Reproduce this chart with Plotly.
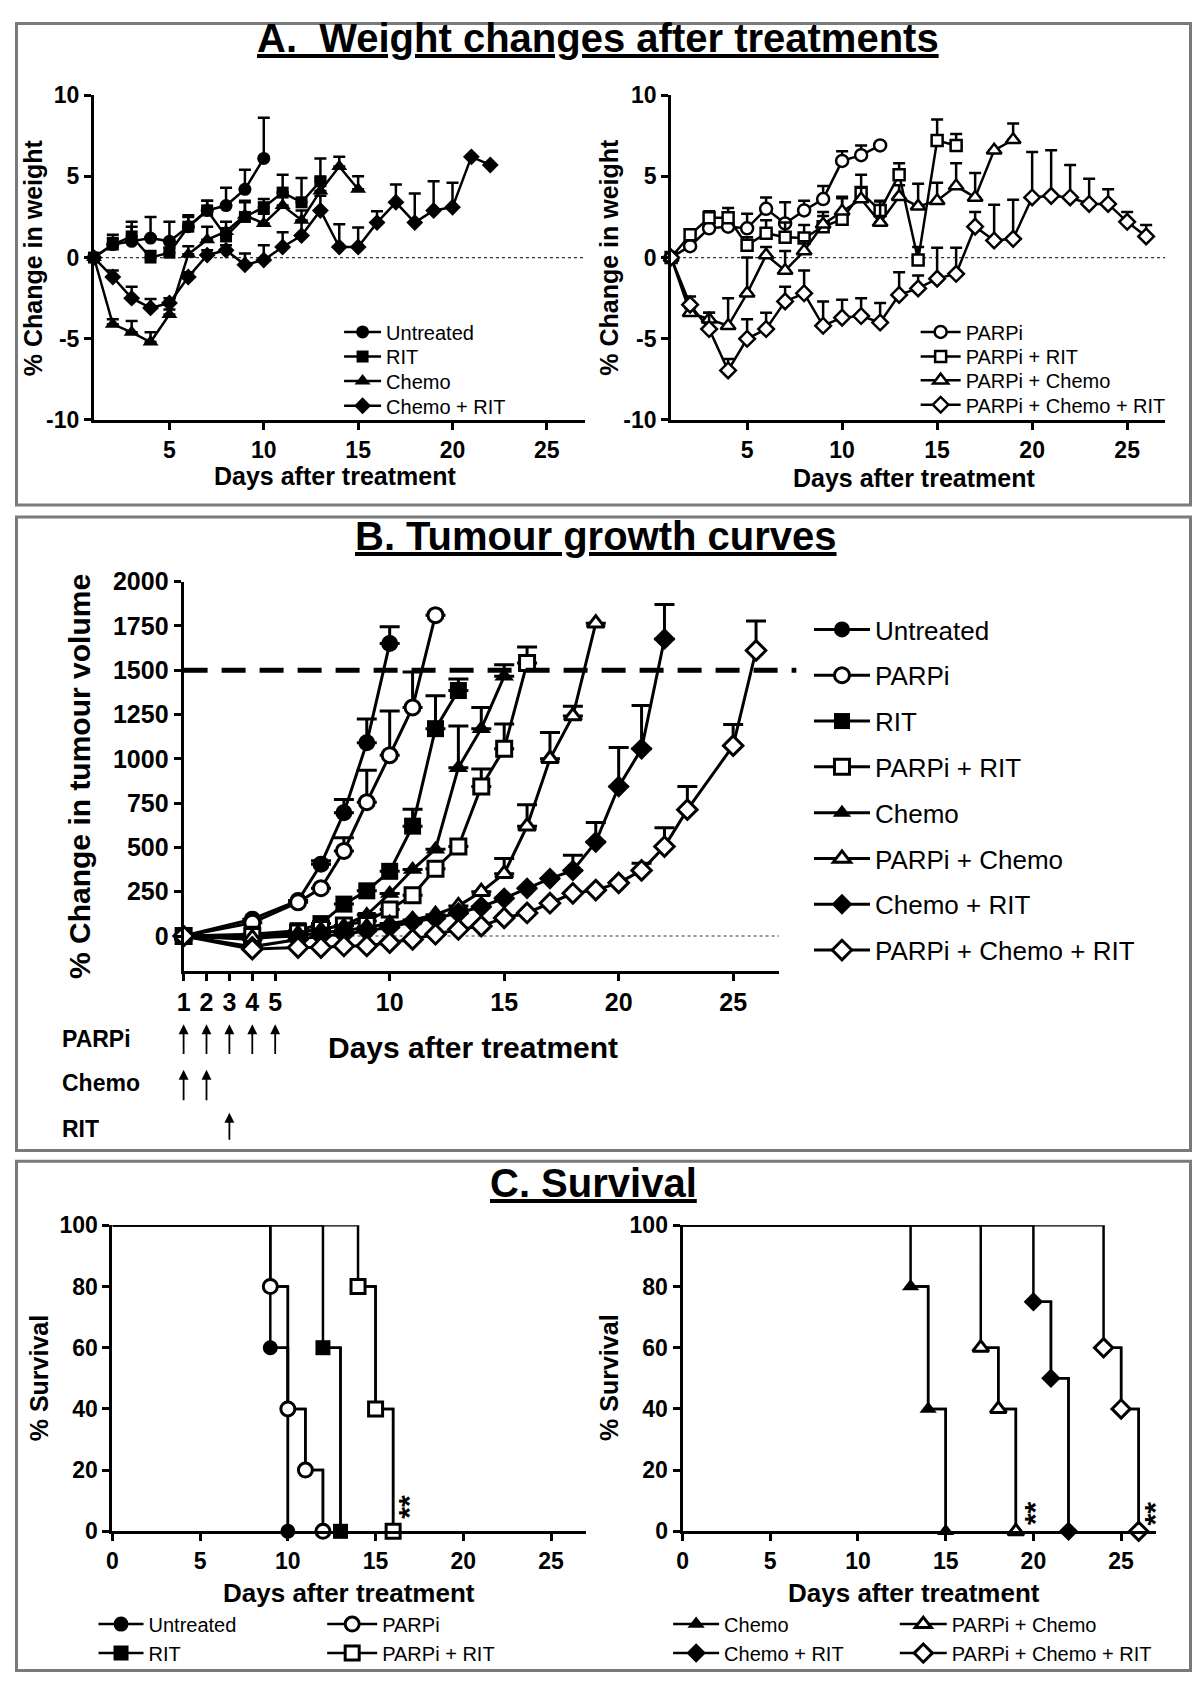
import numpy as np
import plotly.graph_objects as go

FONT = "Liberation Sans, Arial, Helvetica, sans-serif"
# The page body keeps the browser's default 8px margin, so the figure is made
# 16px smaller than the window and every page coordinate is shifted by 8px.
PAGE_OFF = 8
W, H = 1200 - 2 * PAGE_OFF, 1693 - 2 * PAGE_OFF

# ---------------- Panel A: weight change (% ) ----------------
a_days = list(range(1, 27))
a_untreated = [0, 0.8, 1.0, 1.2, 1.0, 1.9, 2.9, 3.2, 4.2, 6.1]
a_untreated_err = [None, 0.4, 0.9, 1.3, 1.2, 0.6, 0.6, 1.1, 1.2, 2.5]
a_rit = [0, 0.8, 1.3, 0.0, 0.3, 1.9, 2.9, 1.3, 2.5, 3.1, 4.0, 3.4, 4.7]
a_rit_err = [None, 0.6, 0.9, 0.4, 0.3, 0.7, 0.6, 0.5, 1.0, 0.5, 1.1, 1.5, 1.4]
a_chemo = [0, -4.1, -4.6, -5.2, -3.5, 0.2, 1.1, 1.6, 2.6, 2.1, 3.2, 2.3, 4.1, 5.6, 4.2]
a_chemo_err = [None, 0.3, 0.7, 0.6, 0.3, 0.5, 0.8, 0.6, 0.8, 0.6, 0.8, 0.6, 0.8, 0.6, 0.8]
a_chemo_rit = [0, -1.2, -2.5, -3.1, -2.8, -1.2, 0.15, 0.45, -0.45, -0.15, 0.65, 1.35, 2.9,
               0.65, 0.65, 2.15, 3.4, 2.15, 2.9, 3.1, 6.2, 5.7]
a_chemo_rit_err = [None, 0.4, 0.7, 0.55, 0.3, 0.3, 0.3, 0.3, 0.7, 0.9, 0.9, 0.9, 0.9,
                   1.4, 1.2, 0.7, 1.1, 1.8, 1.8, 1.5, None, None]

a_parpi = [0, 0.7, 1.8, 1.9, 1.8, 3.0, 2.1, 2.9, 3.6, 5.95, 6.3, 6.9]
a_parpi_err = [None, 0.3, 0.4, 0.5, 0.9, 0.7, 1.3, 0.6, 0.8, 0.6, 0.6, None]
a_parpi_rit = [0, 1.4, 2.45, 2.45, 0.75, 1.5, 1.25, 1.2, 1.9, 2.35, 4.0, 2.9, 5.1, -0.15, 7.2, 6.9]
a_parpi_rit_err = [None, 0.3, 0.4, 0.6, 0.5, 0.8, 0.9, 0.8, 0.9, 1.4, 1.1, 0.6, 0.7, 0.8, 1.3, 0.7]
a_parpi_chemo = [0, -3.4, -3.8, -4.2, -2.2, 0.15, -0.8, 0.4, 2.05, 2.85, 3.6, 2.15, 3.75,
                 3.15, 3.5, 4.4, 3.7, 6.6, 7.25]
a_parpi_chemo_err = [None, 0.3, 0.4, 1.7, 2.2, 0.5, 1.2, 0.6, 0.5, 0.8, 0.7, 1.3, 0.7,
                     1.4, 1.1, 1.4, 1.5, None, 1.0]
a_parpi_chemo_rit = [0, -2.9, -4.4, -6.95, -5.0, -4.4, -2.7, -2.2, -4.2, -3.7, -3.6, -4.0, -2.3,
                     -1.9, -1.3, -1.0, 1.9, 1.05, 1.15, 3.7, 3.8, 3.7, 3.3, 3.3, 2.2, 1.3]
a_parpi_chemo_rit_err = [None, 0.5, 1.0, 0.7, 1.2, 1.0, 0.9, 1.4, 1.5, 1.1, 1.1, 1.2, 1.4,
                         0.8, 1.9, 1.6, 0.9, 2.2, 2.4, 2.8, 2.8, 2.0, 1.55, 0.9, 0.6, 0.7]

# ---------------- Panel B: tumour growth (% change in volume) ----------------
b_untreated_days = [1, 4, 6, 7, 8, 9, 10]
b_untreated = [0, 95, 200, 405, 695, 1090, 1650]
b_untreated_err = [None, None, None, 20, 75, 135, 95]
b_parpi_days = [1, 4, 6, 7, 8, 9, 10, 11, 12]
b_parpi = [0, 75, 190, 270, 480, 755, 1020, 1290, 1810]
b_parpi_err = [None, None, None, None, 75, 180, 250, 200, None]
b_rit_days = [1, 4, 6, 7, 8, 9, 10, 11, 12, 13]
b_rit = [0, 10, 30, 70, 180, 255, 365, 620, 1170, 1385]
b_rit_err = [None, None, None, None, None, None, None, 95, 185, 65]
b_parpi_rit_days = [1, 4, 6, 7, 8, 9, 10, 11, 12, 13, 14, 15, 16]
b_parpi_rit = [0, 0, 20, 40, 60, 85, 150, 230, 380, 505, 843, 1056, 1540]
b_parpi_rit_err = [None, None, None, None, None, None, None, None, None, None, 100, 140, 90]
b_chemo_days = [1, 4, 6, 7, 8, 9, 10, 11, 12, 13, 14, 15]
b_chemo = [0, -20, 20, 40, 60, 120, 240, 375, 490, 950, 1170, 1465]
b_chemo_err = [None, None, None, None, None, None, None, None, None, 235, 120, 65]
b_parpi_chemo_days = [1, 4, 6, 7, 8, 9, 10, 11, 12, 13, 14, 15, 16, 17, 18, 19]
b_parpi_chemo = [0, -10, 0, 20, 30, 50, 70, 90, 120, 170, 250, 352, 620, 1000, 1241, 1765]
b_parpi_chemo_err = [None, None, None, None, None, None, None, None, None, None, None, 85, 120, 148, 55, None]
b_chemo_rit_days = [1, 4, 6, 7, 8, 9, 10, 11, 12, 13, 14, 15, 16, 17, 18, 19, 20, 21, 22]
b_chemo_rit = [0, -60, -20, 0, 10, 30, 50, 80, 100, 130, 165, 213, 269, 324, 370, 530, 843, 1056, 1676]
b_chemo_rit_err = [None, None, None, None, None, None, None, None, None, None, None, None, None, None,
                   85, 110, 220, 245, 195]
b_pcr_days = [1, 4, 6, 7, 8, 9, 10, 11, 12, 13, 14, 15, 16, 17, 18, 19, 20, 21, 22, 23, 25, 26]
b_pcr = [0, -74, -65, -65, -56, -56, -37, -19, 10, 37, 56, 102, 130, 185, 241, 259, 300, 370,
         505, 713, 1074, 1611]
b_pcr_err = [None, None, None, None, None, None, None, None, None, None, None, None, None, None,
             None, None, None, 40, 106, 130, 120, 167]
b_threshold = 1500
arrow_parpi_days = [1, 2, 3, 4, 5]
arrow_chemo_days = [1, 2]
arrow_rit_days = [3]

# ---------------- Panel C: survival (%) ----------------
c_untreated_days, c_untreated = [9, 10], [60, 0]
c_parpi_days, c_parpi = [9, 10, 11, 12], [80, 40, 20, 0]
c_rit_days, c_rit = [12, 13], [60, 0]
c_parpi_rit_days, c_parpi_rit = [14, 15, 16], [80, 40, 0]
c_chemo_days, c_chemo = [13, 14, 15], [80, 40, 0]
c_parpi_chemo_days, c_parpi_chemo = [17, 18, 19], [60, 40, 0]
c_chemo_rit_days, c_chemo_rit = [20, 21, 22], [75, 50, 0]
c_pcr_days, c_pcr = [24, 25, 26], [60, 40, 0]
c_sig_left = [(16.9, 8)]
c_sig_right = [(20.1, 6), (26.9, 6)]


def px(x):
    return (x - PAGE_OFF) / W


def py(y):
    return 1 - (y - PAGE_OFF) / H


fig = go.Figure()


def errarr(err):
    return np.array([np.nan if v is None else v for v in err], dtype=float)


def add_series(x, y, err, name, symbol, filled, xa, ya, legend, size, lw, mlw, errw, group=None):
    kw = {}
    if err is not None:
        kw['error_y'] = dict(type='data', symmetric=False, array=errarr(err),
                             arrayminus=np.zeros(len(y)), color='black',
                             thickness=lw, width=errw, visible=True)
    fig.add_trace(go.Scatter(
        x=x, y=y, name=name, mode='lines+markers', xaxis=xa, yaxis=ya, legend=legend,
        line=dict(color='black', width=lw),
        marker=dict(symbol=symbol, size=size, color='black' if filled else 'white',
                    line=dict(color='black', width=0 if filled else mlw)),
        cliponaxis=False, legendgroup=group, hoverinfo='skip', **kw))


# Panel A left (one legend per entry so the rows can sit as tight as the original)
A_S, A_LW = 13, 2.5
add_series(a_days[:len(a_untreated)], a_untreated, a_untreated_err, 'Untreated', 'circle', True, 'x', 'y', 'legend', A_S, A_LW, 2.5, 6)
add_series(a_days[:len(a_rit)], a_rit, a_rit_err, 'RIT', 'square', True, 'x', 'y', 'legend2', A_S - 1, A_LW, 2.5, 6)
add_series(a_days[:len(a_chemo)], a_chemo, a_chemo_err, 'Chemo', 'triangle-up', True, 'x', 'y', 'legend3', A_S + 1, A_LW, 2.5, 6)
add_series(a_days[:len(a_chemo_rit)], a_chemo_rit, a_chemo_rit_err, 'Chemo + RIT', 'diamond', True, 'x', 'y', 'legend4', A_S, A_LW, 2.5, 6)
# Panel A right
add_series(a_days[:len(a_parpi)], a_parpi, a_parpi_err, 'PARPi', 'circle', False, 'x2', 'y2', 'legend5', A_S - 1, A_LW, 2.5, 6)
add_series(a_days[:len(a_parpi_rit)], a_parpi_rit, a_parpi_rit_err, 'PARPi + RIT', 'square', False, 'x2', 'y2', 'legend6', A_S - 2, A_LW, 2.5, 6)
add_series(a_days[:len(a_parpi_chemo)], a_parpi_chemo, a_parpi_chemo_err, 'PARPi + Chemo', 'triangle-up', False, 'x2', 'y2', 'legend7', A_S, A_LW, 2.5, 6)
add_series(a_days[:len(a_parpi_chemo_rit)], a_parpi_chemo_rit, a_parpi_chemo_rit_err, 'PARPi + Chemo + RIT', 'diamond', False, 'x2', 'y2', 'legend8', A_S - 1, A_LW, 2.5, 6)

# Panel B
B_S, B_LW = 15, 3
b_series = [
    (b_untreated_days, b_untreated, b_untreated_err, 'Untreated', 'circle', True),
    (b_parpi_days, b_parpi, b_parpi_err, 'PARPi', 'circle', False),
    (b_rit_days, b_rit, b_rit_err, 'RIT', 'square', True),
    (b_parpi_rit_days, b_parpi_rit, b_parpi_rit_err, 'PARPi + RIT', 'square', False),
    (b_chemo_days, b_chemo, b_chemo_err, 'Chemo', 'triangle-up', True),
    (b_parpi_chemo_days, b_parpi_chemo, b_parpi_chemo_err, 'PARPi + Chemo', 'triangle-up', False),
    (b_chemo_rit_days, b_chemo_rit, b_chemo_rit_err, 'Chemo + RIT', 'diamond', True),
    (b_pcr_days, b_pcr, b_pcr_err, 'PARPi + Chemo + RIT', 'diamond', False),
]
for i, (d, v, e, n, s, f) in enumerate(b_series):
    add_series(d, v, e, n, s, f, 'x3', 'y3', 'legend9', B_S + (2 if f else 0), B_LW, 3, 10, group='b%d' % i)


# Panel C (Kaplan-Meier steps)
def add_km(days, surv, name, symbol, filled, xa, ya, legend):
    fig.add_trace(go.Scatter(x=[0] + days, y=[100] + surv, mode='lines', line=dict(color='black', width=2.5, shape='hv'),
                             xaxis=xa, yaxis=ya, showlegend=False, hoverinfo='skip', cliponaxis=False))
    fig.add_trace(go.Scatter(x=days, y=surv, mode='lines+markers', name=name, legend=legend,
                             line=dict(color='black', width=2.5, shape='hv'),
                             marker=dict(symbol=symbol, size=14 if not filled else 15,
                                         color='black' if filled else 'white',
                                         line=dict(color='black', width=0 if filled else 3)),
                             xaxis=xa, yaxis=ya, hoverinfo='skip', cliponaxis=False))


add_km(c_untreated_days, c_untreated, 'Untreated', 'circle', True, 'x4', 'y4', 'legend10')
add_km(c_rit_days, c_rit, 'RIT', 'square', True, 'x4', 'y4', 'legend10')
add_km(c_parpi_days, c_parpi, 'PARPi', 'circle', False, 'x4', 'y4', 'legend11')
add_km(c_parpi_rit_days, c_parpi_rit, 'PARPi + RIT', 'square', False, 'x4', 'y4', 'legend11')
add_km(c_chemo_days, c_chemo, 'Chemo', 'triangle-up', True, 'x5', 'y5', 'legend12')
add_km(c_chemo_rit_days, c_chemo_rit, 'Chemo + RIT', 'diamond', True, 'x5', 'y5', 'legend12')
add_km(c_parpi_chemo_days, c_parpi_chemo, 'PARPi + Chemo', 'triangle-up', False, 'x5', 'y5', 'legend13')
add_km(c_pcr_days, c_pcr, 'PARPi + Chemo + RIT', 'diamond', False, 'x5', 'y5', 'legend13')


def axis(size, **kw):
    d = dict(showline=True, linecolor='black', linewidth=3, ticks='outside', ticklen=7, tickwidth=3,
             tickcolor='black', showgrid=False, zeroline=False, tickangle=0, fixedrange=True,
             tickfont=dict(family=FONT, size=size, color='black', weight='bold'))
    d.update(kw)
    return d


a_ytick = [-10, -5, 0, 5, 10]
a_yticktext = ['-10', '-5', '0', '5', '10']
a_xtick = [5, 10, 15, 20, 25]
b_xtick = [1, 2, 3, 4, 5, 10, 15, 20, 25]
b_ytick = list(range(0, 2001, 250))
c_xtick = [0, 5, 10, 15, 20, 25]
c_ytick = [0, 20, 40, 60, 80, 100]

A_YDOM = [py(412.5), py(82.3)]
C_YDOM = [py(1542), py(1231)]

layout = dict(
    width=W, height=H, margin=dict(l=0, r=0, t=0, b=0),
    paper_bgcolor='white', plot_bgcolor='white', font=dict(family=FONT, color='black'),
    xaxis=axis(23, domain=[px(87.4), px(581)], range=[1, 27], tickvals=a_xtick, anchor='y'),
    yaxis=axis(23, domain=A_YDOM, range=[-10, 10], tickvals=a_ytick, ticktext=a_yticktext, anchor='x'),
    xaxis2=axis(23, domain=[px(668), px(1165)], range=[1, 27], tickvals=a_xtick, anchor='y2'),
    yaxis2=axis(23, domain=A_YDOM, range=[-10, 10], tickvals=a_ytick, ticktext=a_yticktext, anchor='x2'),
    xaxis3=axis(25, domain=[px(177.6), px(776.5)], range=[1, 27], tickvals=b_xtick, anchor='y3'),
    yaxis3=axis(25, domain=[py(973), py(576.7)], range=[-200, 2000], tickvals=b_ytick, anchor='x3'),
    xaxis4=axis(23, domain=[px(106), px(582.5)], range=[0, 27], tickvals=c_xtick, anchor='y4'),
    yaxis4=axis(23, domain=C_YDOM, range=[0, 100], tickvals=c_ytick, anchor='x4'),
    xaxis5=axis(23, domain=[px(679.5), px(1156)], range=[0, 27], tickvals=c_xtick, anchor='y5'),
    yaxis5=axis(23, domain=C_YDOM, range=[0, 100], tickvals=c_ytick, anchor='x5'),
)


def legend_cfg(x, y, size, itemwidth, yanchor='top', grouped=False, gap=0):
    d = dict(x=px(x), y=py(y), xanchor='left', yanchor=yanchor, bgcolor='rgba(0,0,0,0)', borderwidth=0,
             font=dict(family=FONT, size=size, color='black'), itemwidth=itemwidth,
             itemclick=False, itemdoubleclick=False)
    if grouped:
        d.update(traceorder='grouped', tracegroupgap=gap)
    else:
        d.update(traceorder='normal')
    return d


# A legends: one row each, centred on the original row positions
for k, yc in zip(['legend', 'legend2', 'legend3', 'legend4'], [323, 348, 373, 398]):
    layout[k] = legend_cfg(334, yc, 20, 37, yanchor='middle')
for k, yc in zip(['legend5', 'legend6', 'legend7', 'legend8'], [323, 348, 372, 397]):
    layout[k] = legend_cfg(914, yc, 20, 40, yanchor='middle')
layout['legend9'] = legend_cfg(806.7, 601.6, 26, 56, grouped=True, gap=9)
layout['legend10'] = legend_cfg(87, 1616.5, 20, 45)
layout['legend11'] = legend_cfg(317, 1616.5, 20, 50)
layout['legend12'] = legend_cfg(665, 1616.5, 20, 46)
layout['legend13'] = legend_cfg(893, 1616.5, 20, 47)
fig.update_layout(**layout)

shapes = []
# panel borders (outer edges held just inside the figure)
edge_l, edge_r, edge_t, edge_b = PAGE_OFF + 1.5, PAGE_OFF + W - 1.5, PAGE_OFF + 1.5, PAGE_OFF + H - 1.5
for (x0, y0, x1, y1) in [(edge_l, edge_t, edge_r, 499), (edge_l, 511, edge_r, 1155), (edge_l, 1166, edge_r, edge_b)]:
    shapes.append(dict(type='rect', xref='paper', yref='paper', x0=px(x0), x1=px(x1), y0=py(y0), y1=py(y1),
                       line=dict(color='#7a7a7a', width=3), fillcolor='rgba(0,0,0,0)', layer='below'))
# dotted zero lines
for xr, yr in [('x', 'y'), ('x2', 'y2'), ('x3', 'y3')]:
    shapes.append(dict(type='line', xref=xr + ' domain', yref=yr, x0=0, x1=1, y0=0, y1=0,
                       line=dict(color='#333333', width=1.2, dash='dot'), layer='below'))
# 1500 threshold line
shapes.append(dict(type='line', xref='paper', yref='y3', x0=px(177.6), x1=px(794), y0=b_threshold, y1=b_threshold,
                   line=dict(color='black', width=5, dash='24px,14px')))
fig.update_layout(shapes=shapes)

ann = []


def text(x, y, t, size, bold=True, angle=0, xanchor='center'):
    ann.append(dict(x=px(x), y=py(y), xref='paper', yref='paper', text=t, showarrow=False, textangle=angle,
                    xanchor=xanchor, yanchor='middle',
                    font=dict(family=FONT, size=size, color='black', weight='bold' if bold else 'normal')))


text(594, 24, '<u>A.\u00a0 Weight changes after treatments</u>', 40)
text(592, 530, '<u>B. Tumour growth curves</u>', 40)
text(590, 1188, '<u>C. Survival</u>', 40)

text(25.7, 247.5, '% Change in weight', 25, angle=-90)
text(605.6, 247.5, '% Change in weight', 25, angle=-90)
text(330, 469, 'Days after treatment', 25)
text(912, 471, 'Days after treatment', 25)

text(72.7, 775, '% Change in tumour volume', 30, angle=-90)
text(469, 1050, 'Days after treatment', 30)
text(53.6, 1041.7, 'PARPi', 23, xanchor='left')
text(53.6, 1086.7, 'Chemo', 23, xanchor='left')
text(53.6, 1133, 'RIT', 23, xanchor='left')

text(31.6, 1386, '% Survival', 25, angle=-90)
text(605.6, 1386, '% Survival', 25, angle=-90)
text(344, 1605, 'Days after treatment', 26)
text(912, 1605, 'Days after treatment', 26)

# dosing arrows (data-positioned on the panel B day axis)
for days, head, tail in [(arrow_parpi_days, 1026.7, 1058), (arrow_chemo_days, 1073, 1105), (arrow_rit_days, 1116.7, 1145)]:
    for d in days:
        ann.append(dict(x=d, y=py(head), xref='x3', yref='paper', ax=0, ay=tail - head, axref='pixel', ayref='pixel',
                        showarrow=True, arrowhead=2, arrowsize=1.1, arrowwidth=1.8, arrowcolor='black', text=''))

# significance marks
for (x, y) in c_sig_left:
    ann.append(dict(x=x, y=y, xref='x4', yref='y4', text='**', showarrow=False, textangle=-90,
                    font=dict(family=FONT, size=30, color='black', weight='bold')))
for (x, y) in c_sig_right:
    ann.append(dict(x=x, y=y, xref='x5', yref='y5', text='**', showarrow=False, textangle=-90,
                    font=dict(family=FONT, size=30, color='black', weight='bold')))

fig.update_layout(annotations=ann)

fig.write_html("out.html", config={'displayModeBar': False})
